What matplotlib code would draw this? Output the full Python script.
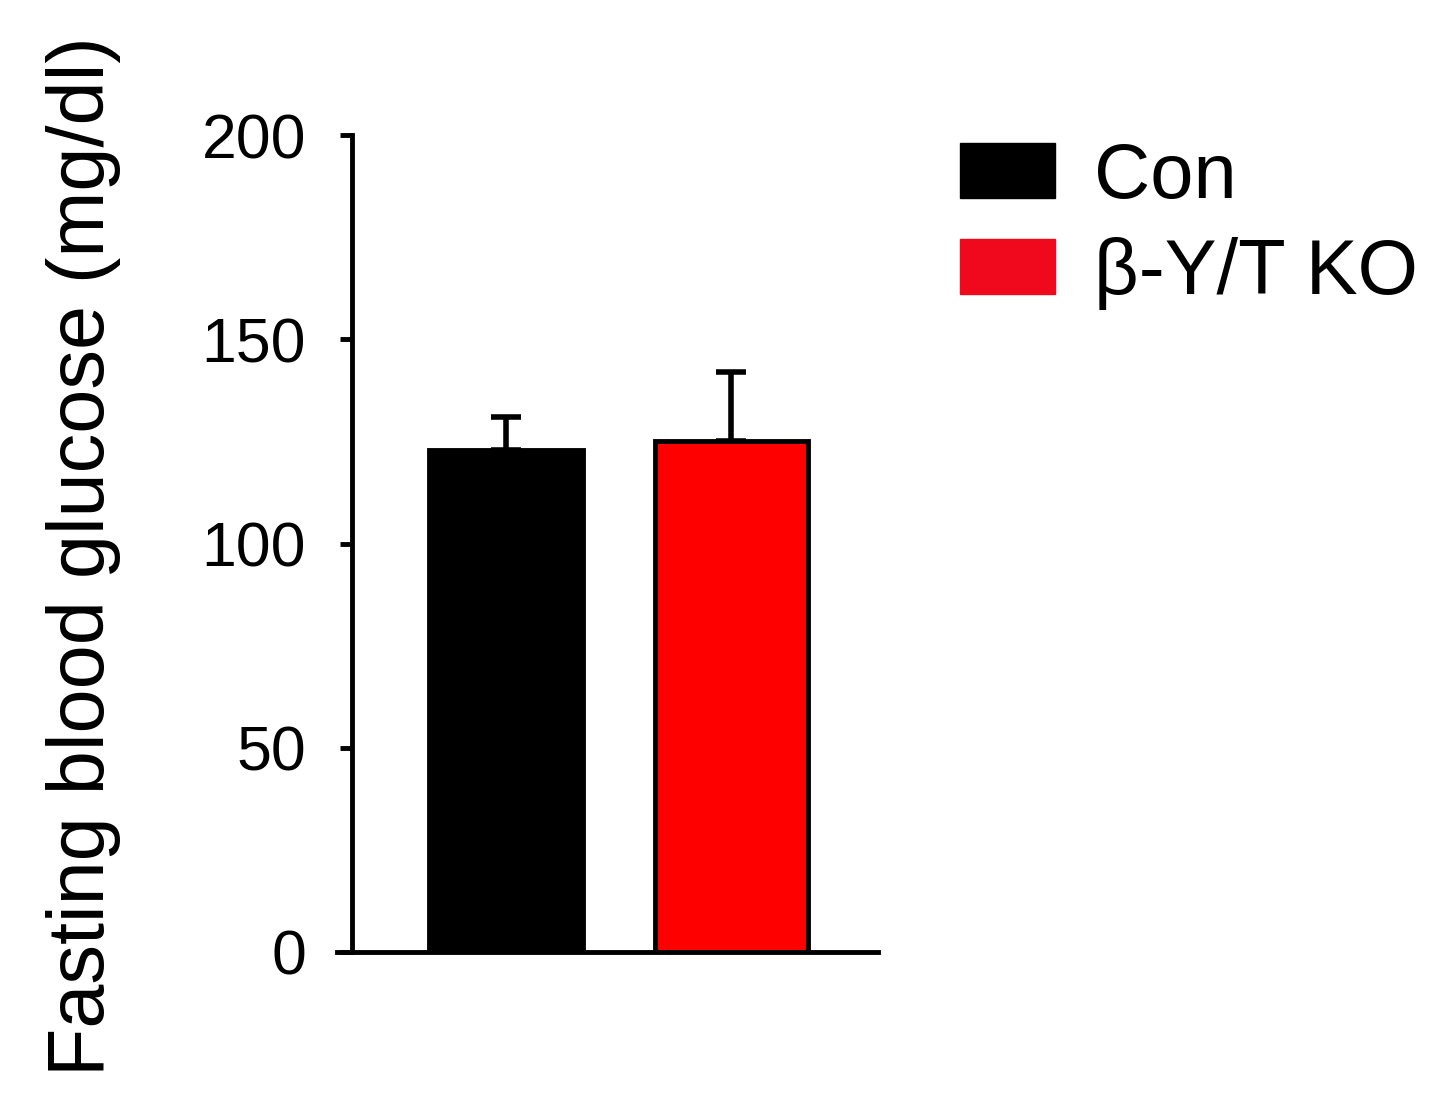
import numpy as np
import matplotlib.pyplot as plt
from matplotlib.patches import Patch

plt.rcParams['font.family'] = ['Liberation Sans', 'DejaVu Sans']

groups = ['Con', 'β-Y/T KO']
glucose = [123, 125]
sem = [8, 17]
colors = ['#000000', '#ff0000']
legend_colors = ['#000000', '#f0081c']

fig = plt.figure(figsize=(14.47, 10.95), dpi=100)
ax = fig.add_axes([0.2433, 0.1306, 0.3635, 0.7461])

index = np.arange(len(groups))
bar_width = 0.68
for i in index:
    ax.bar(index[i], glucose[i], bar_width, color=colors[i], edgecolor='black',
           linewidth=3.5, zorder=2)
    ax.errorbar(index[i], glucose[i], yerr=[[0], [sem[i]]], fmt='none',
                ecolor='black', elinewidth=4, capsize=11, capthick=4, zorder=1)

ax.set_xlim(-0.684, 1.653)
ax.set_ylim(0, 200)
ax.set_yticks([0, 50, 100, 150, 200])
ax.set_xticks([])
ax.spines['top'].set_visible(False)
ax.spines['right'].set_visible(False)
ax.spines['left'].set_linewidth(3.5)
ax.spines['bottom'].set_linewidth(3.5)
ax.spines['bottom'].set_bounds(-0.75, 1.653)
ax.tick_params(axis='y', direction='out', length=9, width=3.5, labelsize=45, pad=24)
ax.set_ylabel('Fasting blood glucose (mg/dl)', fontsize=57)
ax.yaxis.set_label_coords(-0.44, 0.485)

handles = [Patch(facecolor=c, edgecolor=c) for c in legend_colors]
fig.legend(handles, groups, loc='upper left', bbox_to_anchor=(0.642, 0.9),
           frameon=False, fontsize=56, handlelength=1.22, handleheight=0.7,
           handletextpad=0.5, labelspacing=0.3, borderaxespad=0)

fig.savefig('out.png', dpi=100)
